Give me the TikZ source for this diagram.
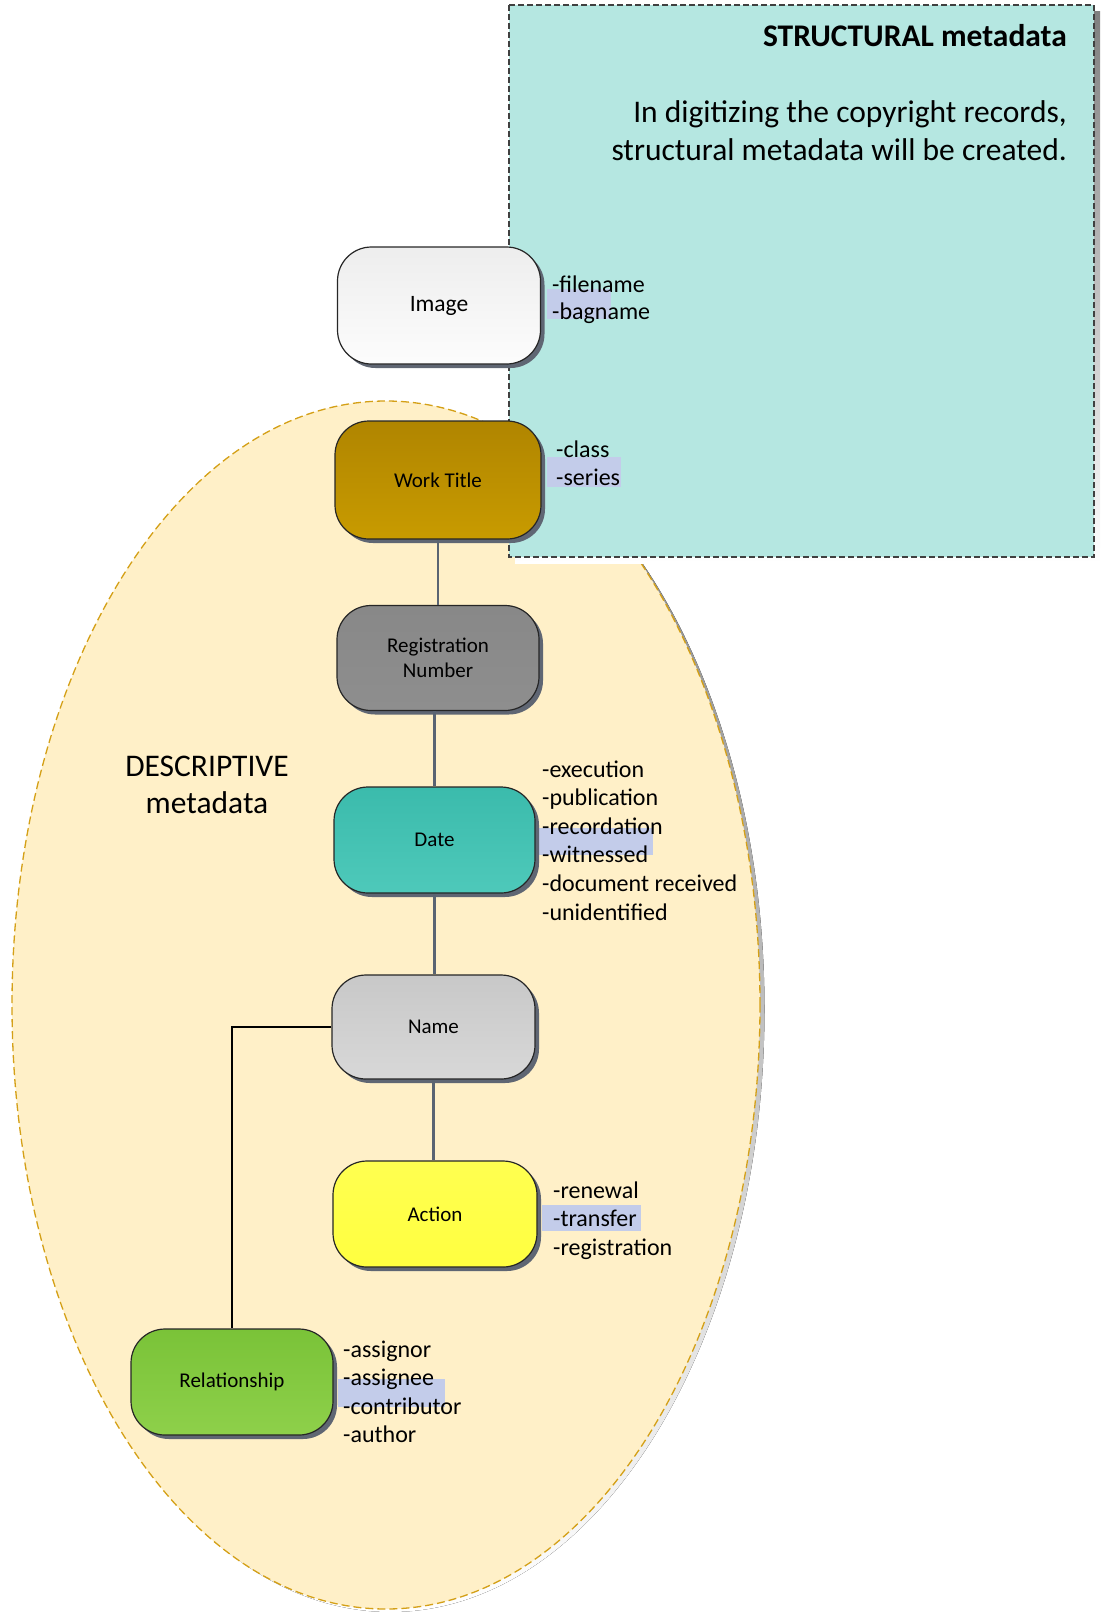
\documentclass[tikz,border=0pt]{standalone}
\usepackage{fontspec}
\setmainfont{Carlito}
\usetikzlibrary{shadows}

\definecolor{cream}{HTML}{FFF0C8}
\definecolor{creamedge}{HTML}{D4A017}
\definecolor{aqua}{HTML}{B5E7E1}
\definecolor{shade}{HTML}{5F6673}
\definecolor{hilite}{HTML}{C3CCEA}
\definecolor{link}{HTML}{5A6472}

\tikzset{
  box/.style={draw=black!85, line width=1.2pt, rounded corners=34pt,
    inner sep=0pt, align=center, font=\fontsize{21}{25}\selectfont,
    drop shadow={shadow xshift=4pt, shadow yshift=-4pt, fill=shade, opacity=1}},
  lbl/.style={anchor=base west, inner sep=0pt, font=\fontsize{24}{29}\selectfont},
  conn/.style={draw=link, line width=2.4pt},
  band/.style={fill=hilite, draw=none},
}

\begin{document}
\begin{tikzpicture}[x=1pt,y=-1pt]
\useasboundingbox (0,0) rectangle (1104,1612);

% descriptive area: shadowed dashed ellipse
\fill[shade] (390.5,1009) ellipse [x radius=374pt, y radius=603pt];
\draw[fill=cream, draw=creamedge, dash pattern=on 8pt off 4pt, line width=1.3pt]
  (386,1005) ellipse [x radius=374pt, y radius=604pt];

% structural area: shadowed dashed panel
\fill[shade] (515,11) rectangle (1100,563);
\draw[fill=aqua, draw=black!75, dash pattern=on 6pt off 3pt, line width=1.6pt] (509,5) rectangle (1094,557);

\node[anchor=base east, inner sep=0pt, font=\bfseries\fontsize{31.5}{38}\selectfont]
  (stitle) at (1067,46) {STRUCTURAL metadata};
\node[anchor=base east, inner sep=0pt, font=\fontsize{31.5}{38}\selectfont]
  (sline1) at (1067,122) {In digitizing the copyright records,};
\node[anchor=base east, inner sep=0pt, font=\fontsize{31.5}{38}\selectfont]
  (sline2) at (1067,160) {structural metadata will be created.};

\node[inner sep=0pt, font=\fontsize{31.5}{38}\selectfont] (dline1) at (207,766) {DESCRIPTIVE};
\node[inner sep=0pt, font=\fontsize{31.5}{38}\selectfont] (dline2) at (207,803) {metadata};

% highlight bands behind the attribute lists
\fill[band] (547,289) rectangle (611,319);
\fill[band] (547,457) rectangle (621,487);
\fill[band] (538,828) rectangle (653,855);
\fill[band] (542,1205) rectangle (641,1231);
\fill[band] (338,1379) rectangle (445,1407);

% entity boxes
\node[box, minimum width=203pt, minimum height=117pt, font=\fontsize{23.5}{28}\selectfont,
  top color=black!7, bottom color=black!1] (img) at (439,305.5) {Image};
\node[box, minimum width=206pt, minimum height=118pt,
  top color={rgb,255:red,176;green,133;blue,0}, bottom color={rgb,255:red,200;green,155;blue,0}]
  (wt) at (438,480) {Work Title};
\node[box, minimum width=202pt, minimum height=105pt,
  top color={rgb,255:red,136;green,136;blue,136}, bottom color={rgb,255:red,142;green,142;blue,142}]
  (reg) at (438,658) {Registration\\Number};
\node[box, minimum width=201pt, minimum height=106pt,
  top color={rgb,255:red,59;green,187;blue,172}, bottom color={rgb,255:red,78;green,201;blue,186}]
  (date) at (434.5,840) {Date};
\node[box, minimum width=203pt, minimum height=104pt,
  top color={rgb,255:red,200;green,200;blue,200}, bottom color={rgb,255:red,216;green,216;blue,216}]
  (name) at (433.5,1027) {Name};
\node[box, minimum width=204pt, minimum height=106pt,
  top color={rgb,255:red,255;green,255;blue,80}, bottom color={rgb,255:red,255;green,255;blue,64}]
  (act) at (435,1214) {Action};
\node[box, minimum width=202pt, minimum height=106pt,
  top color={rgb,255:red,122;green,195;blue,56}, bottom color={rgb,255:red,142;green,208;blue,74}]
  (rel) at (232,1382) {Relationship};

% connectors
\draw[conn] (wt.south) -- (reg.north);
\draw[conn] (date.north |- reg.south) -- (date.north);
\draw[conn] (date.south) -- (name.north -| date.south);
\draw[conn] (name.south) -- (act.north -| name.south);
\draw[black, line width=2.4pt] (name.west) -| (rel.north);

% attribute lists
\foreach \t [count=\i] in {-filename,-bagname}
  \node[lbl] (img-\i) at (552,{292+27*(\i-1)}) {\t};
\foreach \t [count=\i] in {-class,-series}
  \node[lbl] (wt-\i) at (556,{457+28*(\i-1)}) {\t};
\foreach \t [count=\i] in {-execution,-publication,-recordation,-witnessed,-document received,-unidentified}
  \node[lbl] (date-\i) at (542,{777+28.6*(\i-1)}) {\t};
\foreach \t [count=\i] in {-renewal,-transfer,-registration}
  \node[lbl] (act-\i) at (553,{1198+28.6*(\i-1)}) {\t};
\foreach \t [count=\i] in {-assignor,-assignee,-contributor,-author}
  \node[lbl] (rel-\i) at (343,{1357+28.5*(\i-1)}) {\t};
\end{tikzpicture}
\end{document}
